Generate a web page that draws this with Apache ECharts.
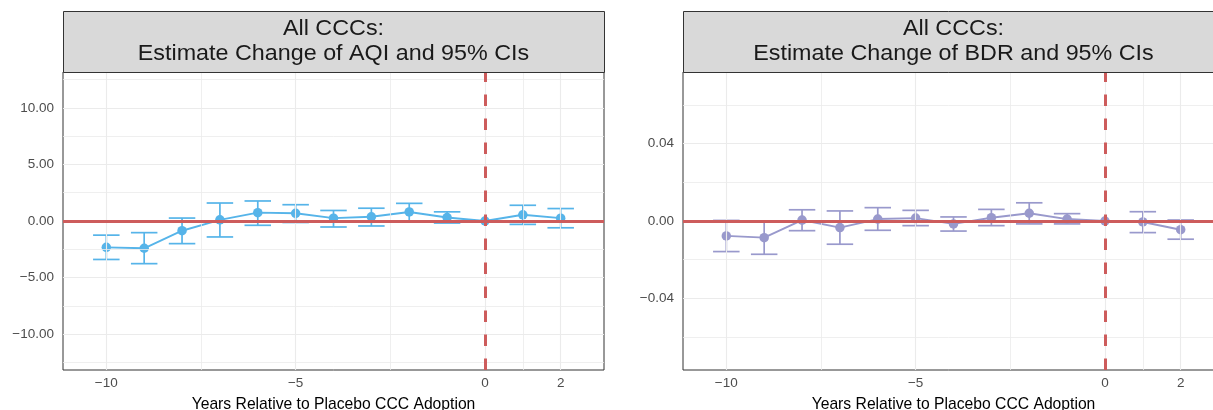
<!DOCTYPE html>
<html>
<head>
<meta charset="utf-8">
<script src="https://cdn.jsdelivr.net/npm/echarts@6/dist/echarts.min.js"></script>
<style>
html,body{margin:0;padding:0;background:#fff;}
#c{width:1213px;height:410px;}
</style>
</head>
<body>
<div id="c"></div>
<script>
// ---------- data ----------
const years = [-10, -9, -8, -7, -6, -5, -4, -3, -2, -1, 0, 1, 2];
const aqiEst  = [-2.33, -2.41, -0.86, 0.10, 0.74, 0.68, 0.25, 0.37, 0.80, 0.31, 0.00, 0.55, 0.25];
const aqiLow  = [-3.40, -3.77, -2.00, -1.41, -0.38, -0.13, -0.53, -0.44, -0.03, -0.18, 0.00, -0.30, -0.60];
const aqiHigh = [-1.25, -1.03, 0.26, 1.59, 1.77, 1.44, 0.93, 1.13, 1.56, 0.81, 0.00, 1.39, 1.10];
const bdrEst  = [-0.0077, -0.0086, 0.0005, -0.0034, 0.0010, 0.0015, -0.0015, 0.0017, 0.0040, 0.0010, 0.0000, -0.0005, -0.0045];
const bdrLow  = [-0.0158, -0.0172, -0.0050, -0.0120, -0.0048, -0.0024, -0.0052, -0.0024, -0.0015, -0.0015, 0.0000, -0.0060, -0.0094];
const bdrHigh = [0.0003, -0.0002, 0.0058, 0.0052, 0.0069, 0.0055, 0.0021, 0.0060, 0.0094, 0.0038, 0.0000, 0.0048, 0.0005];

const xTicks = [-10, -5, 0, 2];
const xMinor = [-7.5, -2.5, 1];
const aqiTicks = [-10, -5, 0, 5, 10];
const aqiMinor = [-12.5, -7.5, -2.5, 2.5, 7.5, 12.5];
const bdrTicks = [-0.04, 0, 0.04];
const bdrMinor = [-0.06, -0.02, 0.02, 0.06];

const titles = [
  'All CCCs:\nEstimate Change of AQI and 95% CIs',
  'All CCCs:\nEstimate Change of BDR and 95% CIs'
];
const xName = 'Years Relative to Placebo CCC Adoption';

// ---------- style ----------
const FONT = '"Liberation Sans", Arial, Helvetica, sans-serif';
const RED = '#CD5C5C';
const BLUE = '#56B4E9';
const PURPLE = '#9999CC';
const GRID = '#EBEBEB';
const PANEL_W = 541;
const panels = [
  {left: 63, color: BLUE, est: aqiEst, low: aqiLow, high: aqiHigh, ymin: -13.17, ymax: 13.17,
   ticks: aqiTicks, minor: aqiMinor, fmt: v => v.toFixed(2)},
  {left: 683, color: PURPLE, est: bdrEst, low: bdrLow, high: bdrHigh, ymin: -0.077, ymax: 0.077,
   ticks: bdrTicks, minor: bdrMinor, fmt: v => v.toFixed(2)}
];
const minus = s => s.replace('-', '\u2212');

const grid = [], xAxis = [], yAxis = [], series = [], graphic = [];
panels.forEach((p, i) => {
  grid.push({left: p.left, top: 72, width: PANEL_W, height: 298, show: true,
    containLabel: false, outerBoundsMode: 'none',
    borderColor: '#333', borderWidth: 1, backgroundColor: 'transparent', z: 5});
  xAxis.push({
    type: 'value', gridIndex: i, min: -11.144, max: 3.144,
    name: xName, nameLocation: 'middle', nameGap: 27,
    nameTextStyle: {fontFamily: FONT, fontSize: 15.7, color: '#000'},
    axisLine: {show: false},
    splitLine: {show: false},
    axisTick: {show: true, customValues: xTicks, length: 3.5, lineStyle: {color: '#333', width: 1}},
    axisLabel: {customValues: xTicks, fontFamily: FONT, fontSize: 13.5, color: '#4D4D4D', margin: 6,
      formatter: v => minus(String(v))}
  });
  yAxis.push({
    type: 'value', gridIndex: i, min: p.ymin, max: p.ymax,
    axisLine: {show: false},
    splitLine: {show: false},
    axisTick: {show: true, customValues: p.ticks, length: 3.5, lineStyle: {color: '#333', width: 1}},
    axisLabel: {customValues: p.ticks, fontFamily: FONT, fontSize: 13.5, color: '#4D4D4D', margin: 9,
      formatter: v => minus(p.fmt(v))}
  });
  // gridlines
  const gl = [];
  xTicks.forEach(v => gl.push({xAxis: v, lineStyle: {color: GRID, width: 1.1, type: 'solid'}}));
  xMinor.forEach(v => gl.push({xAxis: v, lineStyle: {color: GRID, width: 0.8, type: 'solid'}}));
  p.ticks.forEach(v => gl.push({yAxis: v, lineStyle: {color: GRID, width: 1.1, type: 'solid'}}));
  p.minor.forEach(v => gl.push({yAxis: v, lineStyle: {color: GRID, width: 0.8, type: 'solid'}}));
  series.push({
    type: 'line', xAxisIndex: i, yAxisIndex: i, data: [], silent: true, z: 1,
    markLine: {silent: true, symbol: 'none', label: {show: false}, animation: false, data: gl}
  });
  // reference lines
  series.push({
    type: 'line', xAxisIndex: i, yAxisIndex: i, data: [], silent: true, z: 2,
    markLine: {silent: true, symbol: 'none', label: {show: false}, animation: false, data: [
      {yAxis: 0, lineStyle: {color: RED, width: 3, type: 'solid'}},
      {xAxis: 0, lineStyle: {color: RED, width: 3, type: [11.5, 12.5]}}
    ]}
  });
  // error bars
  series.push({
    type: 'custom', xAxisIndex: i, yAxisIndex: i, z: 3, silent: true,
    data: years.map((y, k) => [y, p.low[k], p.high[k]]),
    renderItem: (params, api) => {
      const x = api.value(0), lo = api.value(1), hi = api.value(2);
      const pLo = api.coord([x, lo]), pHi = api.coord([x, hi]);
      const l = api.coord([x - 0.35, lo])[0], r = api.coord([x + 0.35, lo])[0];
      const st = {stroke: p.color, lineWidth: 1.7};
      return {type: 'group', children: [
        {type: 'line', shape: {x1: pLo[0], y1: pLo[1], x2: pHi[0], y2: pHi[1]}, style: st},
        {type: 'line', shape: {x1: l, y1: pLo[1], x2: r, y2: pLo[1]}, style: st},
        {type: 'line', shape: {x1: l, y1: pHi[1], x2: r, y2: pHi[1]}, style: st}
      ]};
    },
    animation: false
  });
  // estimates
  series.push({
    type: 'line', xAxisIndex: i, yAxisIndex: i, z: 4,
    data: years.map((y, k) => [y, p.est[k]]),
    symbol: 'circle', symbolSize: 9.5, showSymbol: true,
    lineStyle: {color: p.color, width: 1.9},
    itemStyle: {color: p.color},
    animation: false
  });
  // strip
  graphic.push({type: 'rect', left: p.left, top: 11, z: 10,
    shape: {width: PANEL_W, height: 61},
    style: {fill: '#D9D9D9', stroke: '#333', lineWidth: 1}});
  graphic.push({type: 'text', z: 11,
    x: p.left + PANEL_W / 2, y: 41.5, scaleX: 1.06,
    style: {text: titles[i], fill: '#1A1A1A', font: '22px ' + FONT, align: 'center',
      verticalAlign: 'middle', lineHeight: 25}});
});

const chart = echarts.init(document.getElementById('c'), null, {renderer: 'canvas'});
chart.setOption({animation: false, backgroundColor: '#fff', grid, xAxis, yAxis, series, graphic});
</script>
</body>
</html>
